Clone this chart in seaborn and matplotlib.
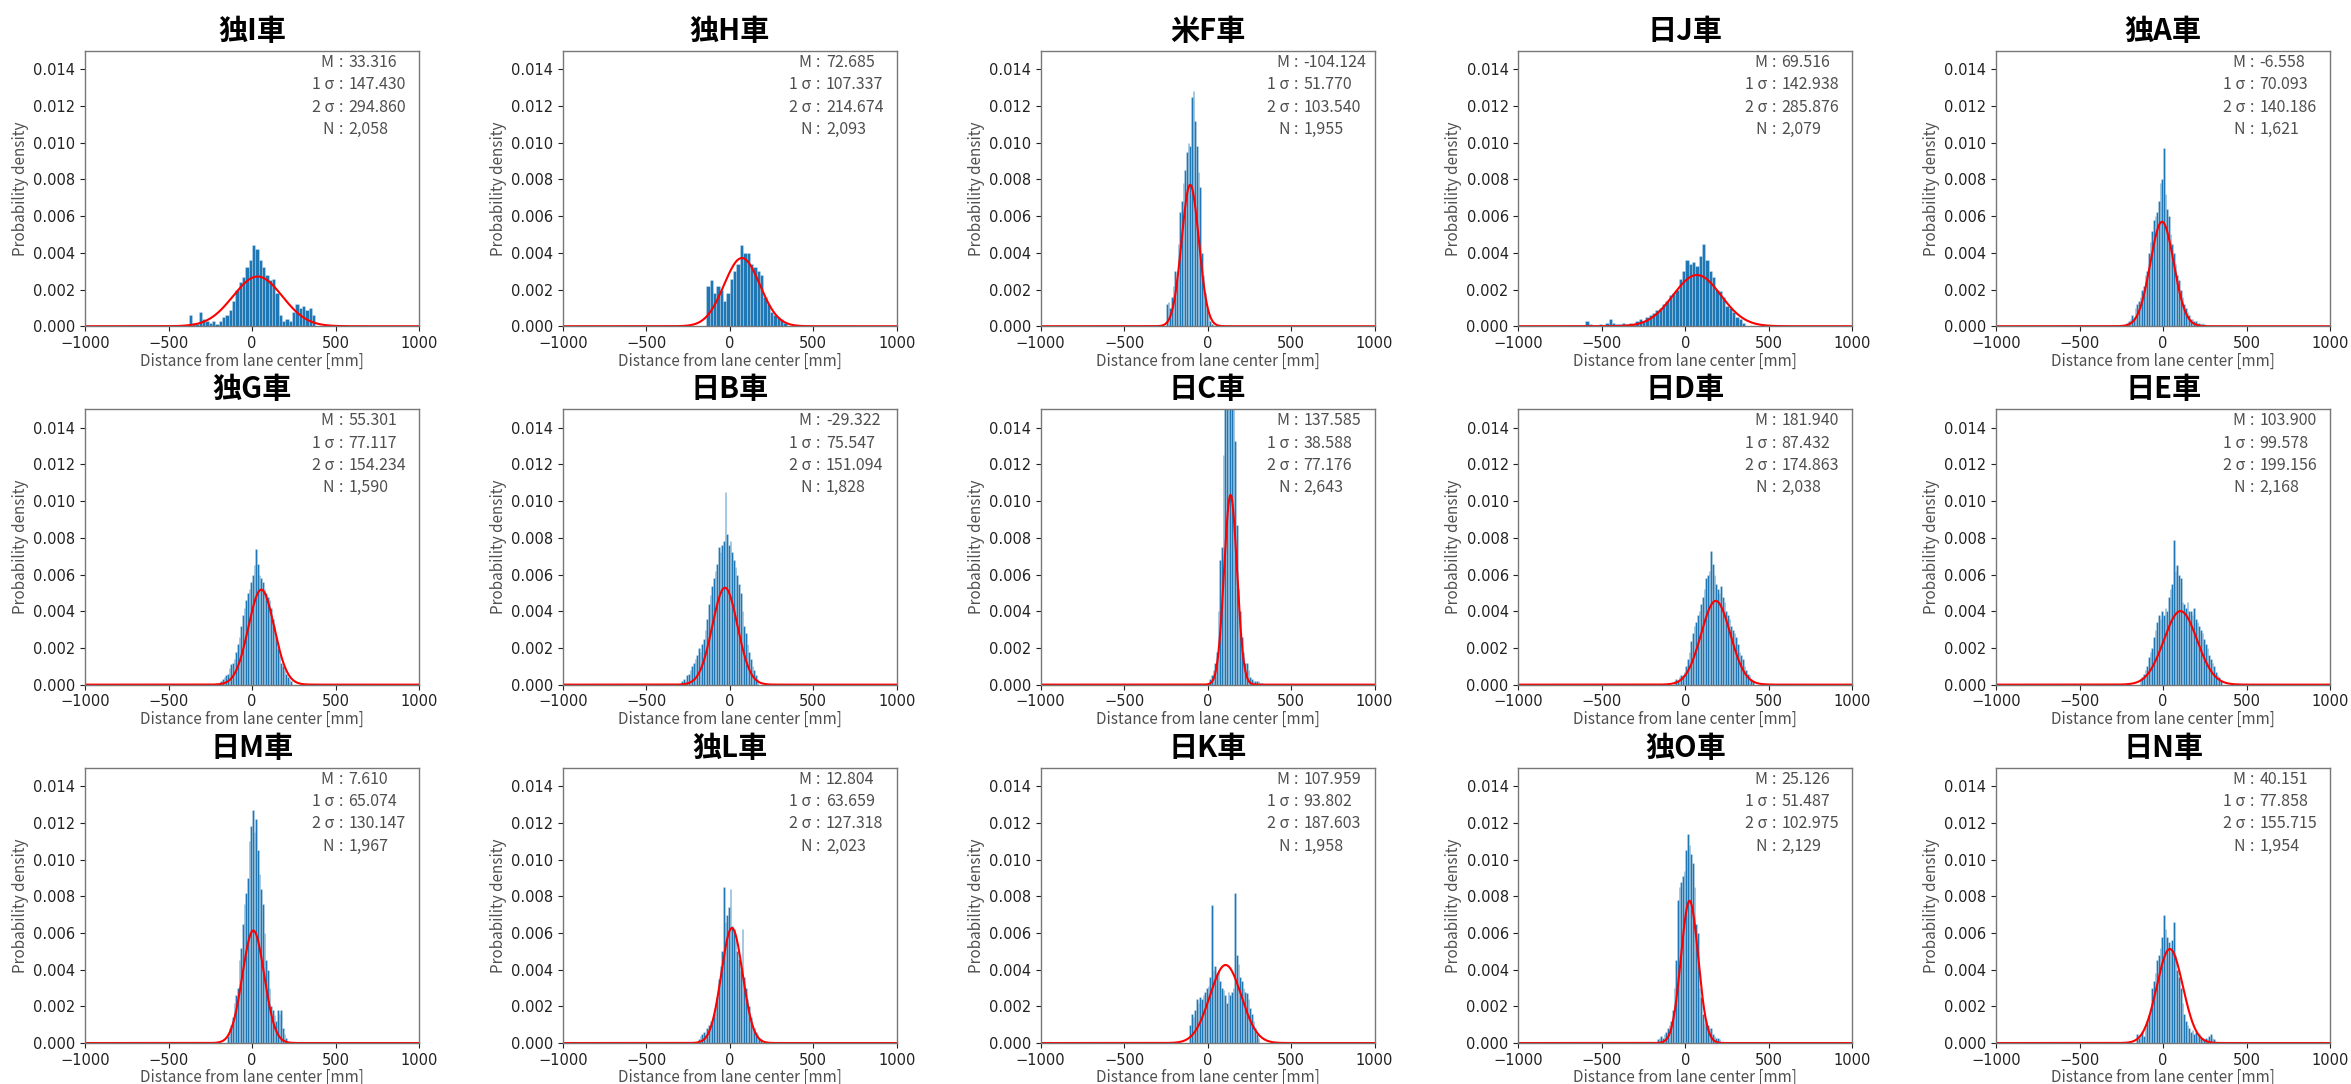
import numpy as np
import pandas as pd
import matplotlib
matplotlib.use("Agg")
import matplotlib.pyplot as plt
import seaborn as sns

sns.set_style("white")
plt.rcParams["font.family"] = ["DejaVu Sans", "Noto Sans CJK JP"]

JP = ["Noto Sans CJK JP", "DejaVu Sans"]

# ---- vehicle summary statistics ----
titles = ["独I車", "独H車", "米F車", "日J車", "独A車",
          "独G車", "日B車", "日C車", "日D車", "日E車",
          "日M車", "独L車", "日K車", "独O車", "日N車"]
means = [33.316, 72.685, -104.124, 69.516, -6.558,
         55.301, -29.322, 137.585, 181.940, 103.900,
         7.610, 12.804, 107.959, 25.126, 40.151]
sigmas = [147.430, 107.337, 51.770, 142.938, 70.093,
          77.117, 75.547, 38.588, 87.432, 99.578,
          65.074, 63.659, 93.802, 51.487, 77.858]
two_sigmas = [294.860, 214.674, 103.540, 285.876, 140.186,
              154.234, 151.094, 77.176, 174.863, 199.156,
              130.147, 127.318, 187.603, 102.975, 155.715]
counts = [2058, 2093, 1955, 2079, 1621,
          1590, 1828, 2643, 2038, 2168,
          1967, 2023, 1958, 2129, 1954]

# ---- histogram densities: first bin edge [mm], bin width [mm], heights ----
bin_starts = [-380, -140, -250, -600, -220,
              -190, -290, 10, -70, -140,
              -150, -190, -110, -170, -160]
bin_widths = [20, 20, 10, 20, 10,
              10, 10, 10, 10, 10,
              10, 10, 10, 10, 10]

dens_I = [0.0006, 0.0002, 0.0001, 0.0008, 0.0004, 0.0003, 0.0002, 0.0003, 0.0001, 0.0003,
          0.0005, 0.0006, 0.0009, 0.0014, 0.0020, 0.0024, 0.0027, 0.0032, 0.0036, 0.0044,
          0.0042, 0.0036, 0.0032, 0.0028, 0.0025, 0.0026, 0.0018, 0.0006, 0.0003, 0.0004,
          0.0003, 0.0008, 0.0012, 0.0010, 0.0011, 0.0009, 0.0010, 0.0006]
dens_H = [0.0022, 0.0025, 0.0018, 0.0022, 0.0020, 0.0014, 0.0018, 0.0026, 0.0030, 0.0034,
          0.0044, 0.0040, 0.0040, 0.0034, 0.0032, 0.0030, 0.0028, 0.0016, 0.0012, 0.0008,
          0.0006, 0.0005, 0.0004, 0.0002]
dens_F = [0.0012, 0.0013, 0.0010, 0.0016, 0.0022, 0.0030, 0.0026, 0.0045, 0.0062, 0.0068,
          0.0078, 0.0085, 0.0095, 0.0100, 0.0098, 0.0125, 0.0128, 0.0112, 0.0098, 0.0084,
          0.0076, 0.0040, 0.0028, 0.0018, 0.0010, 0.0006, 0.0003, 0.0001]
dens_J = [0.0003, 0.0001, 0.0000, 0.0000, 0.0001, 0.0000, 0.0002, 0.0004, 0.0002, 0.0001,
          0.0001, 0.0002, 0.0001, 0.0002, 0.0001, 0.0003, 0.0004, 0.0003, 0.0005, 0.0006,
          0.0007, 0.0009, 0.0010, 0.0012, 0.0014, 0.0017, 0.0018, 0.0020, 0.0026, 0.0030,
          0.0036, 0.0034, 0.0035, 0.0033, 0.0038, 0.0045, 0.0036, 0.0030, 0.0027, 0.0020,
          0.0019, 0.0016, 0.0011, 0.0010, 0.0008, 0.0005, 0.0004, 0.0002]
dens_A = [0.0002, 0.0003, 0.0004, 0.0006, 0.0005, 0.0010, 0.0012, 0.0014, 0.0016, 0.0020,
          0.0022, 0.0028, 0.0030, 0.0040, 0.0046, 0.0052, 0.0058, 0.0060, 0.0062, 0.0068,
          0.0078, 0.0080, 0.0097, 0.0072, 0.0064, 0.0060, 0.0050, 0.0045, 0.0040, 0.0034,
          0.0028, 0.0025, 0.0020, 0.0016, 0.0012, 0.0010, 0.0008, 0.0006, 0.0004, 0.0004,
          0.0003, 0.0003, 0.0002, 0.0002, 0.0001, 0.0002, 0.0001]
dens_G = [0.0002, 0.0003, 0.0004, 0.0005, 0.0006, 0.0009, 0.0011, 0.0012, 0.0014, 0.0018,
          0.0022, 0.0026, 0.0032, 0.0038, 0.0042, 0.0046, 0.0050, 0.0052, 0.0056, 0.0060,
          0.0065, 0.0074, 0.0066, 0.0060, 0.0058, 0.0056, 0.0052, 0.0050, 0.0048, 0.0046,
          0.0042, 0.0036, 0.0032, 0.0026, 0.0020, 0.0016, 0.0012, 0.0010, 0.0008, 0.0006,
          0.0004, 0.0003, 0.0002]
dens_B = [0.0002, 0.0003, 0.0002, 0.0005, 0.0006, 0.0008, 0.0010, 0.0012, 0.0014, 0.0016,
          0.0020, 0.0018, 0.0022, 0.0025, 0.0030, 0.0036, 0.0044, 0.0049, 0.0054, 0.0058,
          0.0062, 0.0066, 0.0075, 0.0072, 0.0076, 0.0078, 0.0105, 0.0082, 0.0076, 0.0078,
          0.0072, 0.0068, 0.0064, 0.0060, 0.0055, 0.0050, 0.0040, 0.0032, 0.0028, 0.0022,
          0.0018, 0.0014, 0.0010, 0.0008, 0.0005, 0.0003]
dens_C = [0.0003, 0.0005, 0.0008, 0.0012, 0.0018, 0.0040, 0.0068, 0.0075, 0.0125, 0.0160,
          0.0170, 0.0180, 0.0175, 0.0170, 0.0160, 0.0133, 0.0087, 0.0052, 0.0040, 0.0026,
          0.0018, 0.0012, 0.0012, 0.0008, 0.0004, 0.0003, 0.0002, 0.0002, 0.0002, 0.0002,
          0.0001, 0.0001]
dens_D = [0.0002, 0.0003, 0.0002, 0.0004, 0.0005, 0.0005, 0.0007, 0.0010, 0.0014, 0.0018,
          0.0024, 0.0028, 0.0032, 0.0034, 0.0038, 0.0040, 0.0044, 0.0048, 0.0052, 0.0058,
          0.0060, 0.0062, 0.0073, 0.0066, 0.0060, 0.0055, 0.0052, 0.0050, 0.0054, 0.0048,
          0.0045, 0.0040, 0.0038, 0.0036, 0.0032, 0.0030, 0.0028, 0.0026, 0.0022, 0.0018,
          0.0016, 0.0014, 0.0010, 0.0008, 0.0006, 0.0005, 0.0003, 0.0002]
dens_E = [0.0003, 0.0004, 0.0006, 0.0008, 0.0010, 0.0015, 0.0018, 0.0020, 0.0026, 0.0030,
          0.0034, 0.0038, 0.0036, 0.0040, 0.0038, 0.0042, 0.0040, 0.0048, 0.0052, 0.0055,
          0.0079, 0.0062, 0.0065, 0.0060, 0.0058, 0.0045, 0.0044, 0.0042, 0.0045, 0.0040,
          0.0040, 0.0038, 0.0042, 0.0036, 0.0034, 0.0032, 0.0030, 0.0028, 0.0025, 0.0022,
          0.0020, 0.0016, 0.0014, 0.0012, 0.0010, 0.0007, 0.0005, 0.0004, 0.0002]
dens_M = [0.0004, 0.0008, 0.0010, 0.0014, 0.0022, 0.0026, 0.0030, 0.0045, 0.0052, 0.0065,
          0.0076, 0.0082, 0.0090, 0.0110, 0.0118, 0.0127, 0.0115, 0.0122, 0.0105, 0.0092,
          0.0084, 0.0076, 0.0060, 0.0045, 0.0040, 0.0030, 0.0020, 0.0018, 0.0015, 0.0012,
          0.0018, 0.0016, 0.0018, 0.0008, 0.0005, 0.0003]
dens_L = [0.0002, 0.0004, 0.0005, 0.0006, 0.0005, 0.0008, 0.0010, 0.0012, 0.0012, 0.0016,
          0.0020, 0.0025, 0.0035, 0.0042, 0.0050, 0.0085, 0.0066, 0.0070, 0.0074, 0.0084,
          0.0064, 0.0062, 0.0056, 0.0050, 0.0046, 0.0040, 0.0062, 0.0036, 0.0030, 0.0024,
          0.0020, 0.0014, 0.0010, 0.0008, 0.0006, 0.0005, 0.0003, 0.0002]
dens_K = [0.0010, 0.0016, 0.0014, 0.0018, 0.0024, 0.0022, 0.0025, 0.0024, 0.0026, 0.0028,
          0.0030, 0.0031, 0.0036, 0.0075, 0.0040, 0.0042, 0.0038, 0.0039, 0.0034, 0.0030,
          0.0029, 0.0026, 0.0022, 0.0028, 0.0026, 0.0028, 0.0030, 0.0082, 0.0048, 0.0043,
          0.0036, 0.0034, 0.0030, 0.0028, 0.0027, 0.0024, 0.0019, 0.0016, 0.0012, 0.0008,
          0.0005, 0.0003]
dens_O = [0.0002, 0.0003, 0.0004, 0.0003, 0.0005, 0.0006, 0.0008, 0.0010, 0.0012, 0.0018,
          0.0030, 0.0045, 0.0078, 0.0085, 0.0088, 0.0091, 0.0094, 0.0105, 0.0114, 0.0108,
          0.0103, 0.0098, 0.0085, 0.0065, 0.0060, 0.0030, 0.0025, 0.0016, 0.0011, 0.0012,
          0.0010, 0.0008, 0.0008, 0.0005, 0.0004, 0.0003, 0.0003, 0.0002]
dens_N = [0.0005, 0.0003, 0.0004, 0.0006, 0.0004, 0.0008, 0.0012, 0.0015, 0.0018, 0.0030,
          0.0034, 0.0038, 0.0045, 0.0048, 0.0052, 0.0058, 0.0070, 0.0062, 0.0058, 0.0055,
          0.0050, 0.0056, 0.0066, 0.0048, 0.0040, 0.0036, 0.0030, 0.0022, 0.0016, 0.0012,
          0.0010, 0.0008, 0.0006, 0.0007, 0.0005, 0.0006, 0.0004, 0.0005, 0.0003, 0.0003,
          0.0002, 0.0003, 0.0002, 0.0004, 0.0005, 0.0003, 0.0002]

densities = [dens_I, dens_H, dens_F, dens_J, dens_A,
             dens_G, dens_B, dens_C, dens_D, dens_E,
             dens_M, dens_L, dens_K, dens_O, dens_N]

x_ticks = [-1000, -500, 0, 500, 1000]
y_ticks = [0.000, 0.002, 0.004, 0.006, 0.008, 0.010, 0.012, 0.014]

fig, axes = plt.subplots(3, 5, figsize=(23.51, 10.84), dpi=100)
fig.subplots_adjust(left=0.0362, right=0.9911, top=0.9530, bottom=0.0378,
                    wspace=0.431, hspace=0.302)

x_curve = np.linspace(-1000, 1000, 801)
text_color = "#4f4f4f"

for i, ax in enumerate(axes.flat):
    vals = np.asarray(densities[i], dtype=float)
    edges = bin_starts[i] + bin_widths[i] * np.arange(len(vals) + 1)
    hist_df = pd.DataFrame({"x": (edges[:-1] + edges[1:]) / 2, "w": vals})
    sns.histplot(data=hist_df, x="x", weights="w", bins=[float(e) for e in edges],
                 ax=ax, color="#1f77b4", alpha=1.0,
                 edgecolor=(1, 1, 1, 0.4), linewidth=0.4)

    m, s = means[i], sigmas[i]
    pdf = np.exp(-0.5 * ((x_curve - m) / s) ** 2) / (s * np.sqrt(2 * np.pi))
    ax.plot(x_curve, pdf, color="red", lw=1.5)

    ax.set_xlim(-1000, 1000)
    ax.set_ylim(0, 0.015)
    ax.set_xticks(x_ticks)
    ax.set_yticks(y_ticks)
    ax.set_yticklabels([f"{v:.3f}" for v in y_ticks])
    ax.tick_params(axis="both", labelsize=10.5, colors="#222222",
                   length=3.5, width=0.8, direction="out",
                   bottom=True, left=True)
    for sp in ax.spines.values():
        sp.set_color("#777777")
        sp.set_linewidth(1.0)

    ax.set_title(titles[i], family=JP, fontsize=21, fontweight="bold",
                 color="black", pad=8)
    ax.set_xlabel("Distance from lane center [mm]", family=JP,
                  fontsize=11, color=text_color, labelpad=1)
    ax.set_ylabel("Probability density", family=JP,
                  fontsize=11, color=text_color, labelpad=3)

    rows = [("M", f"{m:.3f}"),
            ("1 σ", f"{s:.3f}"),
            ("2 σ", f"{two_sigmas[i]:.3f}"),
            ("N", f"{counts[i]:,}")]
    for k, (lab, val) in enumerate(rows):
        y = 0.958 - k * 0.081
        ax.text(0.745, y, lab, transform=ax.transAxes, ha="right", va="center",
                family=JP, fontsize=11.5, color=text_color)
        ax.text(0.7655, y, ":", transform=ax.transAxes, ha="center", va="center",
                family=JP, fontsize=11.5, color=text_color)
        ax.text(0.788, y, val, transform=ax.transAxes, ha="left", va="center",
                family=JP, fontsize=11.5, color=text_color)

fig.savefig("out.png", dpi=100)
